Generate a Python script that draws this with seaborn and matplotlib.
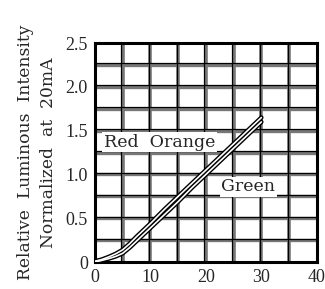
import numpy as np
import matplotlib
matplotlib.use("Agg")
import matplotlib.pyplot as plt
import matplotlib.transforms as mtransforms
import seaborn as sns

# forward current (mA) vs relative luminous intensity
current = [0, 1.25, 2.5, 3.75, 5, 6.25, 7.5, 10, 12.5, 15, 17.5, 20, 22.5, 25, 27.5, 30]
red_orange = [0.01, 0.03, 0.06, 0.095, 0.14, 0.21, 0.29, 0.44, 0.60, 0.75, 0.90,
              1.05, 1.20, 1.35, 1.50, 1.65]
green = [0.0, 0.02, 0.04, 0.065, 0.10, 0.165, 0.24, 0.39, 0.54, 0.69, 0.85,
         1.00, 1.15, 1.30, 1.45, 1.60]

x_ticks = [0, 10, 20, 30, 40]
y_ticks = [0, 0.5, 1.0, 1.5, 2.0, 2.5]
y_tick_labels = ["0", "0.5", "1.0", "1.5", "2.0", "2.5"]

sns.set_style("white")
plt.rcParams["font.family"] = ["Liberation Serif", "DejaVu Serif"]

fig = plt.figure(figsize=(3.25, 2.89), dpi=100)
ax = fig.add_axes([0.292, 0.093, 0.683, 0.758])

ax.set_xlim(0, 40)
ax.set_ylim(0, 2.5)

# double grid lines: thick gray + thin black slightly shifted
xs = np.arange(5, 40, 5)
ys = np.arange(0.25, 2.5, 0.25)
off_x = mtransforms.offset_copy(ax.get_xaxis_transform(), fig=fig, x=-1.5, y=0, units="dots")
off_y = mtransforms.offset_copy(ax.get_yaxis_transform(), fig=fig, x=0, y=1.5, units="dots")
for v in xs:
    ax.axvline(v, color="#777777", lw=2.6, zorder=1)
    ax.plot([v, v], [0, 1], color="black", lw=0.9, zorder=1.1, transform=off_x)
for h in ys:
    ax.axhline(h, color="#777777", lw=2.4, zorder=1)
    ax.plot([0, 1], [h, h], color="black", lw=0.9, zorder=1.1, transform=off_y)

# curves drawn as hollow double lines
for series in (red_orange, green):
    sns.lineplot(x=current, y=series, ax=ax, color="black", lw=3.2, zorder=3)
    sns.lineplot(x=current, y=series, ax=ax, color="white", lw=1.2, zorder=4)

ax.text(1.6, 1.37, "Red  Orange", fontsize=12.5, family="DejaVu Serif",
        va="center", ha="left", zorder=5,
        bbox=dict(facecolor="white", edgecolor="none", pad=1))
ax.text(22.8, 0.86, "Green", fontsize=12.5, family="DejaVu Serif",
        va="center", ha="left", zorder=5,
        bbox=dict(facecolor="white", edgecolor="none", pad=1))

ax.set_xticks(x_ticks)
ax.set_xticklabels([str(t) for t in x_ticks], fontsize=13)
ax.set_yticks(y_ticks)
ax.set_yticklabels(y_tick_labels, fontsize=13)
ax.tick_params(length=0, pad=5)
ax.set_xlabel("")
ax.set_ylabel("Relative  Luminous  Intensity\nNormalized  at  20mA", fontsize=12.3,
              family="DejaVu Serif", linespacing=1.5, labelpad=6)

for s in ax.spines.values():
    s.set_visible(True)
    s.set_color("black")
    s.set_linewidth(2.2)

fig.savefig("out.png", dpi=100)
